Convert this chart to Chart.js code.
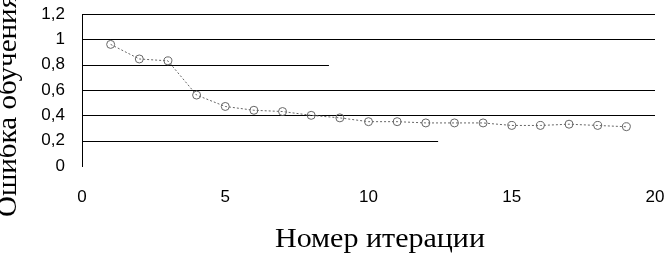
<!DOCTYPE html>
<html>
<head>
<meta charset="utf-8">
<script src="https://cdn.jsdelivr.net/npm/chart.js@4"></script>
<style>
  html, body { margin: 0; padding: 0; background: #fff; }
</style>
</head>
<body>
<canvas id="errChart" width="664" height="258"></canvas>
<script>
// data
const iterations = [1, 2, 3, 4, 5, 6, 7, 8, 9, 10, 11, 12, 13, 14, 15, 16, 17, 18, 19];
const errorValues = [0.96, 0.845, 0.83, 0.56, 0.47, 0.44, 0.43, 0.40, 0.38, 0.35, 0.35, 0.34, 0.34, 0.34, 0.32, 0.32, 0.33, 0.32, 0.31];
const xTicks = [0, 5, 10, 15, 20];
const yTicks = [0, 0.2, 0.4, 0.6, 0.8, 1, 1.2];
const xTitle = 'Номер итерации';
const yTitle = 'Ошибка обучения';

// gridlines that stop part way in the picture: [y value, x where it ends]
const shortGrid = [[0.8, 8.62], [0.2, 12.43]];

// the scanned titles are a bit wider than the font, so stretch to width
function stretchedText(ctx, text, x, y, angle, width) {
    ctx.save();
    ctx.translate(x, y);
    ctx.rotate(angle);
    let k = width / ctx.measureText(text).width;
    ctx.scale(k, 1);
    ctx.fillText(text, 0, 0);
    ctx.restore();
}

const titlesPlugin = {
    id: 'titles',
    beforeDatasetsDraw(chart) {
        let ctx = chart.ctx;
        let xs = chart.scales.x, ys = chart.scales.y;
        ctx.save();
        ctx.strokeStyle = '#000';
        ctx.lineWidth = 1;
        shortGrid.forEach(function (g) {
            let py = Math.round(ys.getPixelForValue(g[0])) + 0.5;
            ctx.beginPath();
            ctx.moveTo(xs.getPixelForValue(0), py);
            ctx.lineTo(xs.getPixelForValue(g[1]), py);
            ctx.stroke();
        });
        ctx.restore();
    },
    afterDraw(chart) {
        let ctx = chart.ctx;
        ctx.save();
        ctx.fillStyle = '#000';
        ctx.font = '27px "Liberation Serif"';
        ctx.textAlign = 'center';
        ctx.textBaseline = 'alphabetic';
        stretchedText(ctx, xTitle, 380, 247, 0, 210);
        stretchedText(ctx, yTitle, 16, 106, -Math.PI / 2, 222);
        ctx.restore();
    }
};

new Chart(document.getElementById('errChart').getContext('2d'), {
    type: 'line',
    data: {
        datasets: [{
            data: iterations.map((x, i) => ({x: x, y: errorValues[i]})),
            borderColor: '#666',
            borderWidth: 1,
            borderDash: [2, 2],
            pointStyle: 'circle',
            pointRadius: 4,
            pointBorderColor: '#666',
            pointBorderWidth: 1,
            pointBackgroundColor: 'rgba(0,0,0,0)',
            tension: 0
        }]
    },
    options: {
        responsive: false,
        devicePixelRatio: 1,
        animation: false,
        layout: {padding: {top: 14, right: 9, left: 0, bottom: 0}},
        plugins: {legend: {display: false}, tooltip: {enabled: false}},
        scales: {
            x: {
                type: 'linear',
                min: 0,
                max: 20,
                afterBuildTicks: (s) => { s.ticks = xTicks.map(v => ({value: v})); },
                afterFit: (s) => { s.height = 92; s.paddingRight = 0; s.paddingLeft = 0; },
                grid: {display: false, drawTicks: false},
                border: {display: false},
                ticks: {
                    padding: 21,
                    autoSkip: false,
                    color: '#000',
                    font: {family: 'Liberation Sans', size: 17},
                    maxRotation: 0
                }
            },
            y: {
                min: 0,
                max: 1.2,
                afterBuildTicks: (s) => { s.ticks = yTicks.map(v => ({value: v})); },
                afterFit: (s) => { s.width = 82; s.paddingTop = 0; s.paddingBottom = 0; },
                grid: {
                    drawTicks: false,
                    lineWidth: 1,
                    color: (c) => {
                        let v = c.tick ? c.tick.value : null;
                        if (v === 0 || v === 0.8 || v === 0.2) return 'rgba(0,0,0,0)';
                        return '#000';
                    }
                },
                border: {display: true, color: '#000', width: 1},
                ticks: {
                    padding: 17,
                    autoSkip: false,
                    color: '#000',
                    font: {family: 'Liberation Sans', size: 17},
                    callback: (v) => String(v).replace('.', ',')
                }
            }
        }
    },
    plugins: [titlesPlugin]
});
</script>
</body>
</html>
